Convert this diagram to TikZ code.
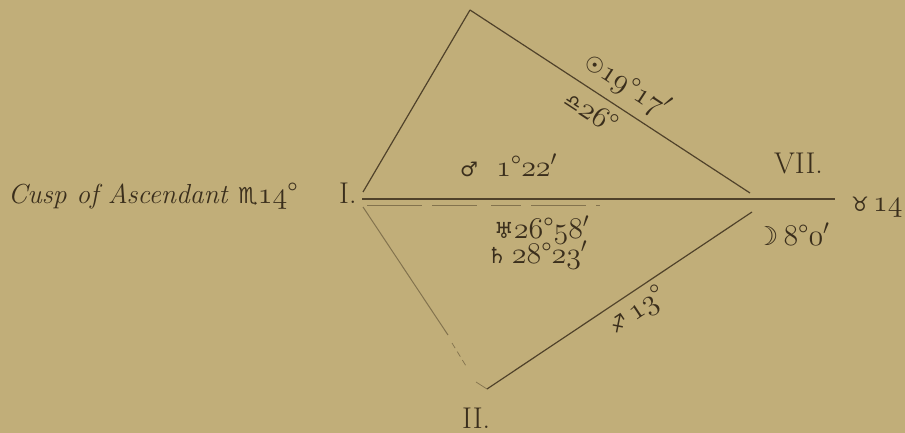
\RequirePackage{fix-cm}
\documentclass[tikz,border=0pt]{standalone}
\usepackage{fontspec}
\newfontfamily\sym{DejaVu Sans}
\newcommand\osn[1]{{\usefont{OML}{cmm}{m}{it}#1}}
\newcommand\pr{$'$}
\definecolor{bg}{RGB}{193,174,121}
\definecolor{ink}{RGB}{58,46,28}
\definecolor{lineink}{RGB}{80,66,42}
\begin{document}
\begin{tikzpicture}[x=1pt,y=-1pt,
  lbl/.style={text=ink, inner sep=0pt, font=\fontsize{30}{33}\selectfont},
  edge/.style={draw=lineink, line width=1.2pt},
  faint/.style={draw=lineink!55!bg, line width=1pt}]
\fill[bg] (0,0) rectangle (905,433);
\useasboundingbox (0,0) rectangle (905,433);

% vertices
\coordinate (T) at (470,10);
\coordinate (Iu) at (363,192);
\coordinate (Ih) at (362,199);
\coordinate (Il) at (363,207);
\coordinate (Vu) at (750,193);
\coordinate (Vl) at (752,212);
\coordinate (Ve) at (835,199);
\coordinate (B) at (487,389);
\coordinate (Bm) at (448,335);
\coordinate (Bn) at (452,343);
\coordinate (Bo) at (466,366);
\coordinate (Bp) at (476,382);
\coordinate (Hd1) at (367,205);
\coordinate (Hd2) at (600,205);

% lines
\draw[edge] (Iu) -- (T);
\draw[edge] (T) -- (Vu)
  node[pos=0.515, sloped, above=8pt, lbl] (sun) {{\sym\fontsize{22}{24}\selectfont ☉}\osn{19}°\osn{17}\pr}
  node[pos=0.47, sloped, below=7pt, lbl] (libra) {{\sym\fontsize{20}{22}\selectfont ♎}\osn{26}°};
\draw[edge] (Ih) -- (Ve);
\draw[faint, dash pattern=on 55pt off 10pt on 45pt off 14pt on 30pt off 10pt] (Hd1) -- (Hd2);
\draw[faint] (Il) -- (Bm);
\draw[faint, line width=0.7pt, dash pattern=on 6pt off 4pt] (Bn) -- (Bo);
\draw[faint, line width=0.7pt] (Bp) -- (B);
\draw[edge] (B) -- (Vl)
  node[pos=0.53, sloped, below=5pt, lbl] (sag) {{\sym\fontsize{20}{22}\selectfont ♐}\,\osn{13}°};

% labels
\node[lbl, anchor=base west, font=\itshape\fontsize{27.5}{30}\selectfont] (cusp) at (8,203) {Cusp of Ascendant};
\node[lbl, anchor=base west] (scorp) at (238,203) {{\sym\fontsize{22}{24}\selectfont ♏}\osn{14}°};
\node[lbl, anchor=base west] (one) at (339,203) {I.};
\node[lbl, anchor=base west] (seven) at (774,173) {VII.};
\node[lbl, anchor=base west] (two) at (462,428) {II.};
\node[lbl, anchor=base west] (mars) at (460,176) {{\sym\fontsize{20}{22}\selectfont ♂}\ \ \osn{1}°\osn{22}\pr};
\node[lbl, anchor=base west] (uran) at (494,238) {{\sym\fontsize{22}{24}\selectfont ♅}\osn{26}°\osn{58}\pr};
\node[lbl, anchor=base west] (sat) at (487,263) {{\sym\fontsize{22}{24}\selectfont ♄}\,\osn{28}°\osn{23}\pr};
\node[lbl, anchor=base west] (moon) at (755,245) {{\sym\fontsize{26}{28}\selectfont ☽}\,\osn{8}°\osn{0}\pr};
\node[lbl, anchor=base west] (taur) at (851,211) {{\sym\fontsize{20}{22}\selectfont ♉}\hspace{4pt}\osn{14}};
\end{tikzpicture}
\end{document}
